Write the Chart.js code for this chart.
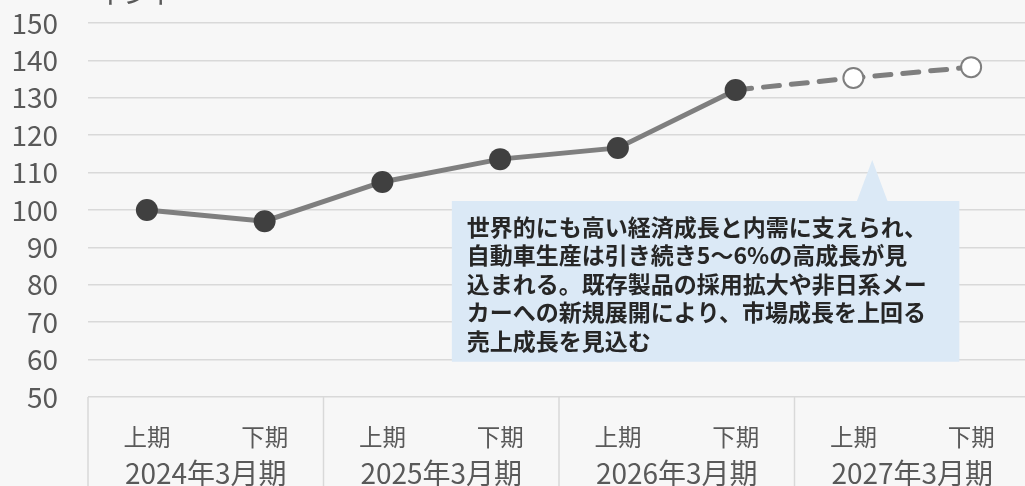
<!DOCTYPE html>
<html>
<head>
<meta charset="utf-8">
<script src="https://cdn.jsdelivr.net/npm/chart.js@4"></script>
<style>
  html, body { margin: 0; padding: 0; background: #f7f7f7; overflow: hidden; }
  #wrap { width: 1030px; height: 486px; }
</style>
</head>
<body>
<div id="wrap"><canvas id="salesChart"></canvas></div>
<script>
const halfLabels = ['上期', '下期', '上期', '下期', '上期', '下期', '上期', '下期'];
const yearLabels = ['2024年3月期', '2025年3月期', '2026年3月期', '2027年3月期'];
const indexValues = [100, 97, 107.5, 113.6, 116.6, 132.1, 135.3, 138.2];
const forecastFrom = 6; // first forecast index (open markers, dashed)
const yTicks = { min: 50, max: 150, step: 10 };
const titleText = 'インド';
const noteLines = [
    '世界的にも高い経済成長と内需に支えられ、',
    '自動車生産は引き続き5～6%の高成長が見',
    '込まれる。既存製品の採用拡大や非日系メー',
    'カーへの新規展開により、市場成長を上回る',
    '売上成長を見込む'
];

const FONT = '"Noto Sans CJK JP", "Noto Sans", sans-serif';
const GRID = '#d9d9d9';
const TEXT = '#595959';

// year group boxes under the axis + the top cut-off title
const groupPlugin = {
    id: 'groups',
    afterDraw(chart) {
        const ctx = chart.ctx;
        const x = chart.scales.x;
        const area = chart.chartArea;
        ctx.save();
        ctx.strokeStyle = GRID;
        ctx.lineWidth = 1.5;
        const seps = [area.left];
        for (let g = 1; g < yearLabels.length; g++) {
            seps.push((x.getPixelForValue(2 * g - 1) + x.getPixelForValue(2 * g)) / 2);
        }
        seps.forEach(px => {
            ctx.beginPath();
            ctx.moveTo(px, area.bottom);
            ctx.lineTo(px, chart.height);
            ctx.stroke();
        });
        ctx.fillStyle = TEXT;
        ctx.font = '28px ' + FONT;
        ctx.textAlign = 'center';
        ctx.textBaseline = 'middle';
        yearLabels.forEach((lbl, g) => {
            const cx = (x.getPixelForValue(2 * g) + x.getPixelForValue(2 * g + 1)) / 2;
            ctx.fillText(lbl, cx, 473);
        });
        ctx.textAlign = 'left';
        ctx.textBaseline = 'alphabetic';
        ctx.fillText(titleText, 95, 4);
        ctx.restore();
    }
};

// callout box
const notePlugin = {
    id: 'note',
    afterDraw(chart) {
        const ctx = chart.ctx;
        const x = chart.scales.x, y = chart.scales.y;
        const left = x.getPixelForValue(2.59), right = x.getPixelForValue(6.9);
        const top = y.getPixelForValue(102.4), bottom = y.getPixelForValue(59.4);
        const tipX = x.getPixelForValue(6.16), tipY = y.getPixelForValue(113.4);
        const b0 = x.getPixelForValue(6.03), b1 = x.getPixelForValue(6.29);
        ctx.save();
        ctx.fillStyle = '#dbe9f6';
        ctx.beginPath();
        ctx.moveTo(left, top);
        ctx.lineTo(b0, top);
        ctx.lineTo(tipX, tipY);
        ctx.lineTo(b1, top);
        ctx.lineTo(right, top);
        ctx.lineTo(right, bottom);
        ctx.lineTo(left, bottom);
        ctx.closePath();
        ctx.fill();
        ctx.fillStyle = '#262626';
        ctx.font = 'bold 23px ' + FONT;
        ctx.textBaseline = 'middle';
        noteLines.forEach((line, i) => {
            ctx.fillText(line, left + 15, top + 26 + i * 28.5);
        });
        ctx.restore();
    }
};

const ctx = document.getElementById('salesChart').getContext('2d');
const chart = new Chart(ctx, {
    type: 'line',
    data: {
        labels: halfLabels,
        datasets: [{
            data: indexValues,
            borderColor: '#7f7f7f',
            borderWidth: 5,
            borderCapStyle: 'round',
            tension: 0,
            pointRadius: indexValues.map((v, i) => i >= forecastFrom ? 10 : 11),
            pointBorderWidth: indexValues.map((v, i) => i >= forecastFrom ? 2 : 0),
            pointBackgroundColor: indexValues.map((v, i) => i >= forecastFrom ? '#ffffff' : '#404040'),
            pointBorderColor: indexValues.map((v, i) => i >= forecastFrom ? '#7f7f7f' : '#404040'),
            segment: {
                borderDash: c => c.p0DataIndex >= forecastFrom - 1 ? [16, 12] : undefined
            }
        }]
    },
    options: {
        responsive: true,
        maintainAspectRatio: false,
        animation: false,
        layout: { autoPadding: false, padding: { top: 23, right: 0, left: 0, bottom: 0 } },
        plugins: {
            legend: { display: false },
            tooltip: { enabled: false }
        },
        scales: {
            x: {
                offset: true,
                grid: { display: false },
                border: { display: false },
                ticks: {
                    color: TEXT,
                    font: { family: FONT, size: 23.5 },
                    padding: 18,
                    maxRotation: 0,
                    autoSkip: false
                },
                afterFit: s => {
                    s.height = 89;
                    s.paddingLeft = 0;
                    s.paddingRight = 0;
                }
            },
            y: {
                min: yTicks.min,
                max: yTicks.max,
                grid: { color: GRID, lineWidth: 1.5, drawTicks: false },
                border: { display: false },
                ticks: {
                    stepSize: yTicks.step,
                    color: TEXT,
                    font: { family: FONT, size: 28 },
                    padding: 30,
                    autoSkip: false
                },
                afterFit: s => {
                    s.width = 88;
                    s.paddingTop = 0;
                    s.paddingBottom = 0;
                }
            }
        }
    },
    plugins: [groupPlugin, notePlugin]
});
</script>
</body>
</html>
